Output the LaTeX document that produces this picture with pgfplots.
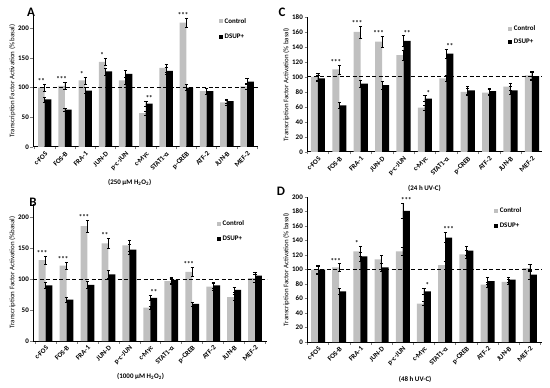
\documentclass[border=0pt]{standalone}
\usepackage{fontspec}
\setmainfont{Carlito}
\usepackage{pgfplots}
\pgfplotsset{compat=1.18}
\definecolor{ctrl}{RGB}{192,192,192}
\pgfplotsset{
  panel/.style={
    scale only axis, anchor=south west, clip=false,
    axis lines*=left, axis line style={line width=1pt},
    ymin=0,
    tick align=outside,
    /pgf/number format/assume math mode=true,
    xtick={0,...,10},
    xticklabels={c-FOS,FOS-B,FRA-1,JUN-D,p-c-JUN,c-Myc,STAT1-α,p-CREB,ATF-2,JUN-B,MEF-2},
    x tick label style={rotate=45, anchor=north east, font=\fontsize{7}{8}\selectfont\bfseries, inner sep=1pt},
    major x tick style={draw=none},
    minor xtick={-0.5,0.5,...,10.5},
    minor x tick style={line width=0.6pt},
    minor tick length=2.5bp,
    major tick length=2.5bp,
    y tick label style={font=\fontsize{7}{8}\selectfont\bfseries, inner sep=1.5pt},
    ytick style={line width=0.6pt},
    ylabel style={font=\fontsize{7}{8}\selectfont, inner sep=1pt},
    xlabel style={font=\fontsize{7}{8}\selectfont\bfseries, anchor=center},
    legend style={draw=none, fill=none, font=\fontsize{7}{8}\selectfont\bfseries, anchor=north west, row sep=5bp, inner sep=1pt},
    legend cell align=left,
  },
  ctrlbar/.style={ybar, bar width=0.33, bar shift=-0.165, fill=ctrl, draw=none,
    legend image code/.code={\fill[ctrl] (0bp,-2bp) rectangle (4bp,2bp);},
    error bars/.cd, y dir=both, y explicit, error bar style={line width=0.5pt, black},
    error mark options={rotate=90, mark size=1.6bp, line width=0.5pt, black}},
  dsupbar/.style={ybar, bar width=0.33, bar shift=0.165, fill=black, draw=none,
    legend image code/.code={\fill[black] (0bp,-2bp) rectangle (4bp,2bp);},
    error bars/.cd, y dir=both, y explicit, error bar style={line width=0.5pt, black},
    error mark options={rotate=90, mark size=1.6bp, line width=0.5pt, black}},
  stars/.style={only marks, mark=*, mark size=0.01pt, mark options={draw opacity=0, fill opacity=0}, point meta=explicit symbolic,
    nodes near coords, nodes near coords style={anchor=south, inner sep=0.5pt, opacity=1, text opacity=1, fill opacity=1, draw opacity=1, text=black, font=\fontsize{7}{8}\selectfont\bfseries}, forget plot},
  basal/.style={sharp plot, dashed, dash pattern=on 4bp off 2.5bp, line width=1.1pt, black, forget plot},
}
\begin{document}
\begin{tikzpicture}
\useasboundingbox (0bp,0bp) rectangle (550bp,388bp);
% ---------- A ----------
\begin{axis}[panel, at={(33bp,241bp)}, width=225bp, height=132bp,
  ymax=222, ytick={0,50,100,150,200}, xmin=-0.58, xmax=10.54,
  ylabel={Transcription Factor Activation (\% basal)},
  xlabel={(250 µM H\textsubscript{2}O\textsubscript{2})}, xlabel style={at={(axis description cs:0.43,-0.27)}},
  legend style={at={(0.82,1.0)}}]
\addplot[ctrlbar] coordinates {(0,100)+-(0,6) (1,103)+-(0,6) (2,112)+-(0,6) (3,143)+-(0,6) (4,112)+-(0,6) (5,57)+-(0,3) (6,133)+-(0,7) (7,209)+-(0,8) (8,94)+-(0,5) (9,75)+-(0,4) (10,102)+-(0,5)};
\addplot[dsupbar] coordinates {(0,80)+-(0,4) (1,63)+-(0,3) (2,95)+-(0,5) (3,127)+-(0,6) (4,123)+-(0,6) (5,73)+-(0,4) (6,128)+-(0,6) (7,100)+-(0,5) (8,94)+-(0,5) (9,77)+-(0,4) (10,110)+-(0,5)};
\legend{Control,DSUP+}
\addplot[basal] coordinates {(-0.58,100) (10.54,100)};
\addplot[stars] coordinates {(-0.165,106)[**] (0.835,109)[***] (1.835,118)[*] (2.835,149)[*] (5.165,77)[**] (6.835,217)[***]};
\end{axis}
% ---------- C ----------
\begin{axis}[panel, at={(307bp,236bp)}, width=235bp, height=135bp,
  ymax=180, ytick={0,20,...,180}, xmin=-0.51, xmax=10.47,
  ylabel={Transcription Factor Activation (\% basal)},
  xlabel={(24 h UV-C)}, xlabel style={at={(axis description cs:0.5,-0.27)}},
  legend style={at={(0.85,0.96)}, row sep=3bp}]
\addplot[ctrlbar] coordinates {(0,100)+-(0,5) (1,110)+-(0,6) (2,160)+-(0,8) (3,147)+-(0,7) (4,129)+-(0,7) (5,59)+-(0,3) (6,98)+-(0,4) (7,80)+-(0,5) (8,79)+-(0,4) (9,87)+-(0,5) (10,102)+-(0,5)};
\addplot[dsupbar] coordinates {(0,98)+-(0,4) (1,62)+-(0,4) (2,91)+-(0,5) (3,89)+-(0,5) (4,148)+-(0,7) (5,71)+-(0,4) (6,131)+-(0,6) (7,82)+-(0,5) (8,81)+-(0,4) (9,82)+-(0,5) (10,101)+-(0,5)};
\legend{Control,DSUP+}
\addplot[basal] coordinates {(-0.51,101) (10.47,101)};
\addplot[stars] coordinates {(0.835,116)[***] (1.835,168)[***] (2.835,154)[***] (4.165,155)[**] (5.165,75)[*] (6.165,137)[**]};
\end{axis}
% ---------- B ----------
\begin{axis}[panel, at={(33bp,47bp)}, width=234bp, height=137bp,
  ymax=222, ytick={0,50,100,150,200}, xmin=-0.6, xmax=10.57,
  ylabel={Transcription Factor Activation (\%basal)},
  xlabel={(1000 µM H\textsubscript{2}O\textsubscript{2})}, xlabel style={at={(axis description cs:0.46,-0.26)}},
  legend style={at={(0.78,0.9)}}]
\addplot[ctrlbar] coordinates {(0,131)+-(0,7) (1,122)+-(0,6) (2,186)+-(0,10) (3,158)+-(0,8) (4,155)+-(0,9) (5,54)+-(0,3) (6,97)+-(0,5) (7,112)+-(0,7) (8,88)+-(0,5) (9,71)+-(0,5) (10,102)+-(0,6)};
\addplot[dsupbar] coordinates {(0,90)+-(0,5) (1,67)+-(0,4) (2,91)+-(0,6) (3,108)+-(0,6) (4,148)+-(0,8) (5,70)+-(0,4) (6,99)+-(0,5) (7,60)+-(0,3) (8,90)+-(0,5) (9,83)+-(0,4) (10,106)+-(0,6)};
\legend{Control,DSUP+}
\addplot[basal] coordinates {(-0.6,99) (10.57,99)};
\addplot[stars] coordinates {(-0.165,138)[***] (0.835,128)[***] (1.835,196)[***] (2.835,166)[**] (5.165,74)[**] (6.835,119)[***]};
\end{axis}
% ---------- D ----------
\begin{axis}[panel, at={(307bp,46bp)}, width=235bp, height=145bp,
  ymax=200, ytick={0,20,...,200}, xmin=-0.52, xmax=10.57,
  ylabel={Transcription Factor Activation (\% basal)},
  xlabel={(48 h UV-C)}, xlabel style={at={(axis description cs:0.46,-0.255)}},
  legend style={at={(0.79,0.95)}}]
\addplot[ctrlbar] coordinates {(0,100)+-(0,5) (1,103)+-(0,5) (2,125)+-(0,7) (3,114)+-(0,6) (4,125)+-(0,6) (5,53)+-(0,3) (6,106)+-(0,6) (7,121)+-(0,6) (8,79)+-(0,4) (9,83)+-(0,4) (10,102)+-(0,5)};
\addplot[dsupbar] coordinates {(0,100)+-(0,6) (1,70)+-(0,4) (2,118)+-(0,6) (3,103)+-(0,6) (4,181)+-(0,10) (5,70)+-(0,4) (6,144)+-(0,7) (7,126)+-(0,6) (8,84)+-(0,5) (9,86)+-(0,4) (10,93)+-(0,6)};
\legend{Control,DSUP+}
\addplot[basal] coordinates {(-0.52,100) (10.57,100)};
\addplot[stars] coordinates {(0.835,108)[***] (1.835,132)[*] (4.165,191)[***] (5.165,74)[*] (6.165,151)[***]};
\end{axis}
% panel letters
\node[font=\fontsize{13}{14}\selectfont\bfseries] at (31bp,376bp) {A};
\node[font=\fontsize{13}{14}\selectfont\bfseries] at (33bp,186bp) {B};
\node[font=\fontsize{13}{14}\selectfont\bfseries] at (282bp,376bp) {C};
\node[font=\fontsize{13}{14}\selectfont\bfseries] at (281bp,197bp) {D};
\end{tikzpicture}
\end{document}
